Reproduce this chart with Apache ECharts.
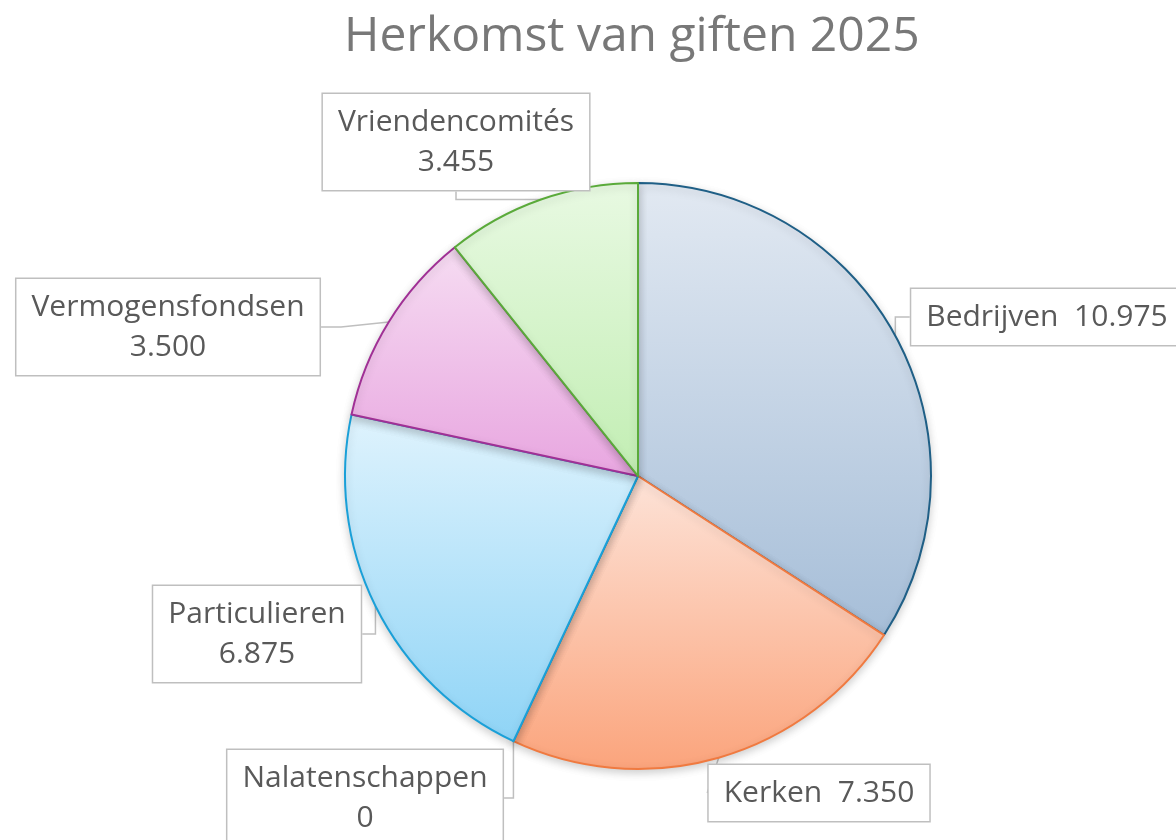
<!DOCTYPE html>
<html>
<head>
<meta charset="utf-8">
<script src="https://cdn.jsdelivr.net/npm/echarts@6/dist/echarts.min.js"></script>
<style>
  html, body { margin: 0; padding: 0; background: #fff; }
  #main { width: 1176px; height: 840px; }
</style>
</head>
<body>
<div id="main"></div>
<script>
var categories = ['Bedrijven', 'Kerken', 'Nalatenschappen', 'Particulieren', 'Vermogensfondsen', 'Vriendencomités'];
var values = [10975, 7350, 0, 6875, 3500, 3455];

// fill gradient (top, bottom) and border colour per slice
var fillTop = ['#e2e9f2', '#fde3d8', '#dff3fd', '#dff3fd', '#f6dcf2', '#e8f9e2'];
var fillBottom = ['#a6bed8', '#fba47c', '#8fd4f6', '#8fd4f6', '#e8a6e0', '#c2eeb3'];
var borders = ['#1f5f86', '#f07a40', '#1aa0d8', '#1aa0d8', '#a03095', '#5aaa3a'];

// single-line labels
var oneLine = { 'Bedrijven': true, 'Kerken': true };

// label box centres (px)
var labelPos = [
  [1047, 317],
  [819, 793],
  [365, 798],
  [257, 634],
  [168, 327],
  [456, 142]
];

function fmt(v) {
  return String(v).replace(/\B(?=(\d{3})+(?!\d))/g, '.');
}

var chart = echarts.init(document.getElementById('main'));

var seriesData = categories.map(function (name, i) {
  return {
    name: name,
    value: values[i],
    itemStyle: {
      color: new echarts.graphic.LinearGradient(0, 0, 0, 1, [
        { offset: 0, color: fillTop[i] },
        { offset: 1, color: fillBottom[i] }
      ]),
      borderColor: borders[i],
      borderWidth: 2
    }
  };
});

var option = {
  backgroundColor: '#ffffff',
  textStyle: { fontFamily: 'Open Sans' },
  title: {
    text: 'Herkomst van giften 2025',
    left: 339,
    top: 8,
    textStyle: {
      fontFamily: 'Open Sans',
      fontSize: 48,
      fontWeight: 'normal',
      color: '#787878'
    }
  },
  series: [
    {
      type: 'pie',
      center: [638, 476],
      radius: 293,
      startAngle: 90,
      clockwise: true,
      animation: false,
      avoidLabelOverlap: false,
      data: seriesData,
      itemStyle: {
        shadowBlur: 8,
        shadowColor: 'rgba(0,0,0,0.18)',
        shadowOffsetY: 3
      },
      label: {
        show: true,
        position: 'outside',
        formatter: function (p) {
          return oneLine[p.name] ? p.name + '  ' + fmt(p.value) : p.name + '\n' + fmt(p.value);
        },
        fontSize: 30,
        lineHeight: 40,
        color: '#595959',
        backgroundColor: '#ffffff',
        borderColor: '#bfbfbf',
        borderWidth: 1.5,
        padding: [8, 15],
        align: 'center'
      },
      labelLine: {
        show: true,
        length: 20,
        length2: 20,
        lineStyle: { color: '#bfbfbf', width: 1.5 }
      },
      labelLayout: function (params) {
        var pos = labelPos[params.dataIndex];
        return {
          x: pos[0],
          y: pos[1],
          align: 'center',
          verticalAlign: 'middle'
        };
      }
    }
  ]
};

chart.setOption(option);
</script>
</body>
</html>
